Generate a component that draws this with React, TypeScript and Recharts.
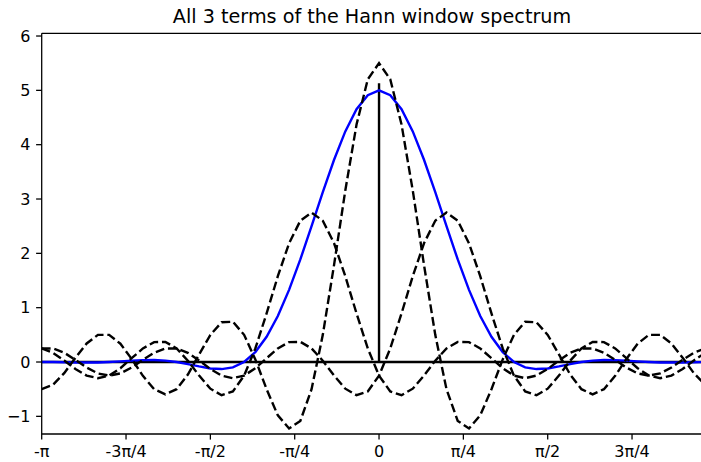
import { LineChart, Line, XAxis, YAxis, ReferenceLine } from "recharts";

// frequency, in units of pi
const X_PI = [
  -1, -0.9667, -0.9333, -0.9, -0.8667, -0.8333, -0.8, -0.7667, -0.7333, -0.7,
  -0.6667, -0.6333, -0.6, -0.5667, -0.5333, -0.5, -0.4667, -0.4333, -0.4, -0.3667,
  -0.3333, -0.3, -0.2667, -0.2333, -0.2, -0.1667, -0.1333, -0.1, -0.0667, -0.0333,
  0, 0.0333, 0.0667, 0.1, 0.1333, 0.1667, 0.2, 0.2333, 0.2667, 0.3,
  0.3333, 0.3667, 0.4, 0.4333, 0.4667, 0.5, 0.5333, 0.5667, 0.6, 0.6333,
  0.6667, 0.7, 0.7333, 0.7667, 0.8, 0.8333, 0.8667, 0.9, 0.9333, 0.9667,
];

// the full Hann spectrum (blue)
const HANN = [
  0, -0.001, -0.005, -0.009, -0.01, -0.008, 0, 0.012, 0.025, 0.035,
  0.037, 0.026, 0, -0.038, -0.081, -0.119, -0.13, -0.098, 0, 0.183,
  0.464, 0.847, 1.328, 1.888, 2.5, 3.125, 3.722, 4.245, 4.653, 4.911,
  5, 4.911, 4.653, 4.245, 3.722, 3.125, 2.5, 1.888, 1.328, 0.847,
  0.464, 0.183, 0, -0.098, -0.13, -0.119, -0.081, -0.038, 0, 0.026,
  0.037, 0.035, 0.025, 0.012, 0, -0.008, -0.01, -0.009, -0.005, -0.001,
];

// centre term
const CENTRAL = [
  -0.5, -0.42, -0.205, 0.079, 0.342, 0.5, 0.5, 0.337, 0.057, -0.255,
  -0.5, -0.595, -0.5, -0.231, 0.14, 0.5, 0.731, 0.742, 0.5, 0.048,
  -0.5, -0.982, -1.223, -1.084, -0.5, 0.5, 1.787, 3.157, 4.37, 5.203,
  5.5, 5.203, 4.37, 3.157, 1.787, 0.5, -0.5, -1.084, -1.223, -0.982,
  -0.5, 0.048, 0.5, 0.742, 0.731, 0.5, 0.14, -0.231, -0.5, -0.595,
  -0.5, -0.255, 0.057, 0.337, 0.5, 0.5, 0.342, 0.079, -0.205, -0.42,
];

// term shifted to the left
const LEFT = [
  0.25, 0.169, 0.029, -0.128, -0.25, -0.298, -0.25, -0.115, 0.07, 0.25,
  0.366, 0.371, 0.25, 0.024, -0.25, -0.491, -0.611, -0.542, -0.25, 0.25,
  0.894, 1.579, 2.185, 2.601, 2.75, 2.601, 2.185, 1.579, 0.894, 0.25,
  -0.25, -0.542, -0.611, -0.491, -0.25, 0.024, 0.25, 0.371, 0.366, 0.25,
  0.07, -0.115, -0.25, -0.298, -0.25, -0.128, 0.029, 0.169, 0.25, 0.25,
  0.171, 0.04, -0.102, -0.21, -0.25, -0.21, -0.102, 0.04, 0.171, 0.25,
];

// term shifted to the right
const RIGHT = [
  0.25, 0.25, 0.171, 0.04, -0.102, -0.21, -0.25, -0.21, -0.102, 0.04,
  0.171, 0.25, 0.25, 0.169, 0.029, -0.128, -0.25, -0.298, -0.25, -0.115,
  0.07, 0.25, 0.366, 0.371, 0.25, 0.024, -0.25, -0.491, -0.611, -0.542,
  -0.25, 0.25, 0.894, 1.579, 2.185, 2.601, 2.75, 2.601, 2.185, 1.579,
  0.894, 0.25, -0.25, -0.542, -0.611, -0.491, -0.25, 0.024, 0.25, 0.371,
  0.366, 0.25, 0.07, -0.115, -0.25, -0.298, -0.25, -0.128, 0.029, 0.169,
];

const X_TICKS = [-1, -0.75, -0.5, -0.25, 0, 0.25, 0.5, 0.75];
const X_LABELS = ["-π", "-3π/4", "-π/2", "-π/4", "0", "π/4", "π/2", "3π/4"];
const Y_TICKS = [-1, 0, 1, 2, 3, 4, 5, 6];
const X_DOMAIN = [-1, 0.9583];
const Y_DOMAIN = [-1.325, 6.05];
const STEM_TOP = 5.13;

const data = X_PI.map((x, i) => ({
  x,
  hann: HANN[i],
  central: CENTRAL[i],
  left: LEFT[i],
  right: RIGHT[i],
}));

const FONT = "'DejaVu Sans', sans-serif";
const tickStyle = { fill: "#000", fontSize: 16, fontFamily: FONT };
const spine = { stroke: "#000", strokeWidth: 1.28 };
const LW = 2.4;
const DASH = "8.9 3.83";

export default function App() {
  return (
    <div
      style={{
        position: "absolute",
        left: 0,
        top: 0,
        width: 701,
        height: 462,
        overflow: "hidden",
        background: "#fff",
      }}
    >
      <div
        style={{
          position: "absolute",
          left: 41.7,
          width: 660.6,
          top: 6.5,
          textAlign: "center",
          fontFamily: FONT,
          fontSize: 19.2,
          lineHeight: 1,
          color: "#000",
          whiteSpace: "nowrap",
        }}
      >
        All 3 terms of the Hann window spectrum
      </div>
      <LineChart
        width={720}
        height={462}
        data={data}
        margin={{ top: 33.3, right: 17.7, bottom: 0, left: 0 }}
      >
        <XAxis
          dataKey="x"
          type="number"
          domain={X_DOMAIN}
          allowDataOverflow
          ticks={X_TICKS}
          tickFormatter={(v: number) => X_LABELS[X_TICKS.indexOf(v)] ?? ""}
          height={28}
          tickSize={5.6}
          tickMargin={5.6}
          axisLine={spine}
          tickLine={spine}
          tick={tickStyle}
          interval={0}
        />
        <YAxis
          type="number"
          domain={Y_DOMAIN}
          allowDataOverflow
          ticks={Y_TICKS}
          tickFormatter={(v: number) => (v < 0 ? "\u2212" + Math.abs(v) : String(v))}
          width={41.7}
          tickSize={5.6}
          tickMargin={5.6}
          axisLine={spine}
          tickLine={spine}
          tick={tickStyle}
          interval={0}
        />
        <ReferenceLine y={Y_DOMAIN[1]} stroke="#000" strokeWidth={1.28} ifOverflow="visible" />
        <ReferenceLine y={0} stroke="#000" strokeWidth={LW} />
        <ReferenceLine
          segment={[
            { x: 0, y: 0 },
            { x: 0, y: STEM_TOP },
          ]}
          stroke="#000"
          strokeWidth={LW}
        />
        <Line
          dataKey="hann"
          type="linear"
          stroke="#0000ff"
          strokeWidth={LW}
          dot={false}
          isAnimationActive={false}
        />
        <Line
          dataKey="central"
          type="linear"
          stroke="#000"
          strokeWidth={LW}
          strokeDasharray={DASH}
          dot={false}
          isAnimationActive={false}
        />
        <Line
          dataKey="left"
          type="linear"
          stroke="#000"
          strokeWidth={LW}
          strokeDasharray={DASH}
          dot={false}
          isAnimationActive={false}
        />
        <Line
          dataKey="right"
          type="linear"
          stroke="#000"
          strokeWidth={LW}
          strokeDasharray={DASH}
          dot={false}
          isAnimationActive={false}
        />
      </LineChart>
    </div>
  );
}
